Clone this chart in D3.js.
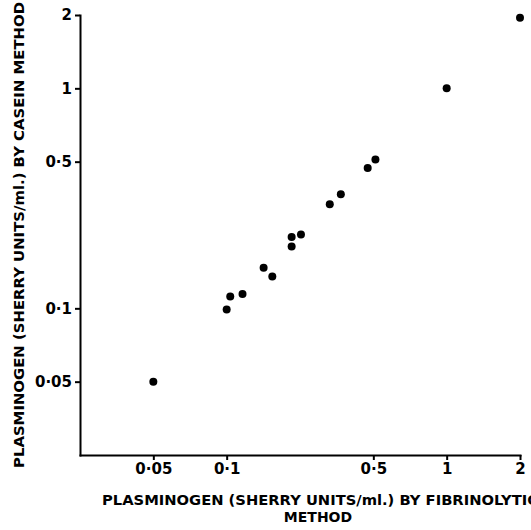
<!DOCTYPE html>
<html>
<head>
<meta charset="utf-8">
<script src="https://cdn.jsdelivr.net/npm/d3@7"></script>
<style>
  body { margin: 0; background: #fff; }
  svg { display: block; }
  .axis path, .axis line { stroke: #000; stroke-width: 2; }
  .axis text { font-family: "DejaVu Sans", sans-serif; font-weight: bold; font-size: 15px; fill: #000; }
  .label { font-family: "DejaVu Sans", sans-serif; font-weight: bold; font-size: 14px; fill: #000; }
</style>
</head>
<body>
<div id="plot"></div>
<script>
// values (Sherry units/ml)
const fibrinolytic = [2.0, 1.0, 0.51, 0.47, 0.35, 0.31, 0.226, 0.204, 0.204, 0.15, 0.165, 0.119, 0.104, 0.1, 0.05];
const casein       = [1.95, 1.0, 0.51, 0.467, 0.35, 0.313, 0.225, 0.219, 0.197, 0.156, 0.142, 0.117, 0.114, 0.099, 0.05];

const tickValues = [0.05, 0.1, 0.5, 1, 2];
const tickLabels = ["0·05", "0·1", "0·5", "1", "2"];

// the printed axes are not a true log scale: 0.1 -> 0.5 spans two "doublings"
const axisBreaks = [0.025, 0.05, 0.1, 0.5, 1, 2];
const axisSteps = [0, 1, 2, 4, 5, 6];

const w = 531;
const h = 530;
const margin = {top: 15, right: 11, bottom: 75, left: 80};
const innerWidth = w - margin.left - margin.right;
const innerHeight = h - margin.top - margin.bottom;
const unitX = innerWidth / 6;
const unitY = innerHeight / 6;

const data = fibrinolytic.map((d, i) => ({x: d, y: casein[i]}));

const xScale = d3.scaleLog()
  .domain(axisBreaks)
  .range(axisSteps.map(s => s * unitX));

const yScale = d3.scaleLog()
  .domain(axisBreaks)
  .range(axisSteps.map(s => innerHeight - s * unitY));

const fmt = d => tickLabels[tickValues.indexOf(d)];

const xAxis = d3.axisBottom(xScale)
  .tickValues(tickValues)
  .tickFormat(fmt)
  .tickSizeInner(5)
  .tickSizeOuter(0)
  .tickPadding(3);

const yAxis = d3.axisLeft(yScale)
  .tickValues(tickValues)
  .tickFormat(fmt)
  .tickSizeInner(5)
  .tickSizeOuter(0)
  .tickPadding(3);

const svg = d3.select("div#plot")
  .append("svg")
  .attr("width", w)
  .attr("height", h);

svg.append("rect")
  .attr("width", w)
  .attr("height", h)
  .attr("fill", "#fff");

const g = svg.append("g")
  .attr("transform", `translate(${margin.left}, ${margin.top})`);

g.append("g")
  .attr("class", "axis xAxis")
  .attr("transform", `translate(0, ${innerHeight})`)
  .call(xAxis);

g.append("g")
  .attr("class", "axis yAxis")
  .call(yAxis);

g.selectAll(".axis .domain").attr("stroke-linecap", "square");

// points
g.append("g")
  .selectAll("circle")
  .data(data)
  .enter().append("circle")
  .attr("cx", d => xScale(d.x))
  .attr("cy", d => yScale(d.y))
  .attr("r", 4)
  .attr("fill", "#000");

// axis titles
svg.append("text")
  .attr("class", "label")
  .attr("transform", `translate(24, ${margin.top + 220}) rotate(-90)`)
  .attr("text-anchor", "middle")
  .attr("textLength", 466)
  .attr("lengthAdjust", "spacingAndGlyphs")
  .text("PLASMINOGEN (SHERRY UNITS/ml.) BY CASEIN METHOD");

svg.append("text")
  .attr("class", "label")
  .attr("x", 102)
  .attr("y", 505)
  .attr("textLength", 436)
  .attr("lengthAdjust", "spacingAndGlyphs")
  .text("PLASMINOGEN (SHERRY UNITS/ml.) BY FIBRINOLYTIC");

svg.append("text")
  .attr("class", "label")
  .attr("x", 318)
  .attr("y", 522)
  .attr("text-anchor", "middle")
  .text("METHOD");
</script>
</body>
</html>
